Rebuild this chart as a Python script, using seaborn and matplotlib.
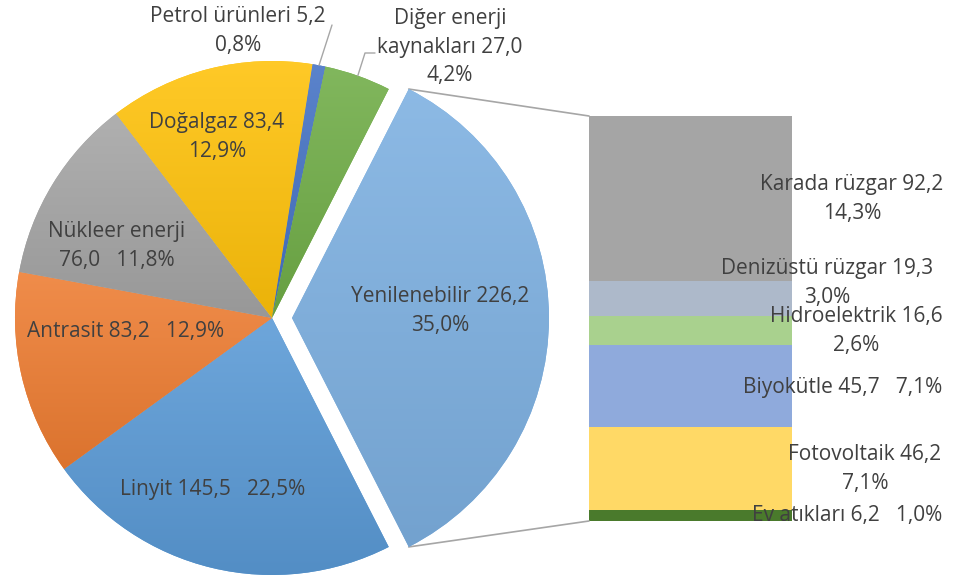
import numpy as np
import matplotlib
matplotlib.use("Agg")
import matplotlib.pyplot as plt
import seaborn as sns
from matplotlib.colors import to_rgb, LinearSegmentedColormap
from matplotlib.patches import ConnectionPatch

# === DATA ===
pie_names = ["Yenilenebilir", "Linyit", "Antrasit", "Nükleer enerji", "Doğalgaz",
             "Petrol ürünleri", "Diğer enerji kaynakları"]
pie_values = [226.2, 145.5, 83.2, 76.0, 83.4, 5.2, 27.0]

bar_names = ["Ev atıkları", "Fotovoltaik", "Biyokütle", "Hidroelektrik",
             "Denizüstü rüzgar", "Karada rüzgar"]
bar_values = [6.2, 46.2, 45.7, 16.6, 19.3, 92.2]

# === STYLE / LAYOUT ===
pie_colors = ["#7DB0E1", "#5A9AD6", "#EE7D32", "#A5A5A5", "#FFC20A", "#4472C4", "#70AD47"]
bar_colors = ["#4A7A2C", "#FFD966", "#8FAADC", "#A9D18E", "#ADB9CA", "#A5A5A5"]

# how the name / value / percent are glued in each label (Excel layout)
pie_name_text = ["Yenilenebilir", "Linyit", "Antrasit", "Nükleer enerji\n", "Doğalgaz",
                 "Petrol ürünleri", "Diğer enerji\nkaynakları"]
pie_sep = ["\n", "   ", "   ", "   ", "\n", "\n", "\n"]
bar_sep = ["   ", "\n", "   ", "\n", "\n", "\n"]

# label centres in pixels (origin top-left)
pie_label_pos = [(440, 311), (213, 490), (126, 332), (117, 246), (217, 137), (238, 31), (450, 47)]
bar_label_pos = [(847, 515), (865, 469), (843, 387), (856, 331), (827, 283), (852, 199)]
leader_ends = {5: [(332, 25)], 6: [(365, 53), (375, 53)]}

W, H = 956, 581
TEXT = "#404040"
LINE = "#A6A6A6"
FS = 15
LS = 1.45

sns.set_theme(style="white")
plt.rcParams["font.family"] = ["Open Sans", "DejaVu Sans"]

total = sum(pie_values)


def fmt(v):
    return f"{v:.1f}".replace(".", ",")


def pct(v):
    return f"{v / total * 100:.1f}%".replace(".", ",")


def shade(c, f):
    r = np.array(to_rgb(c))
    return tuple(r + (1 - r) * f) if f > 0 else tuple(r * (1 + f))


fig = plt.figure(figsize=(W / 100, H / 100), dpi=100)

# bar axes first so the pie axes (with all the labels) sits on top
bax = fig.add_axes([589 / W, 60 / H, 203 / W, 405 / H])
ax = fig.add_axes([0, 0, 1, 1])
ax.set_zorder(2)
ax.patch.set_alpha(0)

# === PIE ===
start = 180 * pie_values[0] / total
wedges, _ = ax.pie(
    pie_values,
    colors=pie_colors,
    startangle=start,
    counterclock=False,
    explode=[20] + [0] * (len(pie_values) - 1),
    radius=257,
    center=(272, H - 318),
    wedgeprops=dict(linewidth=0),
    frame=True,
)

# vertical gradient on each slice, like the Excel fill
for w, c in zip(wedges, pie_colors):
    bb = w.get_path().get_extents()
    cmap = LinearSegmentedColormap.from_list("g", [shade(c, 0.12), shade(c, -0.08)])
    im = ax.imshow(np.linspace(0, 1, 256).reshape(-1, 1), cmap=cmap, aspect="auto",
                   extent=[bb.x0, bb.x1, bb.y0, bb.y1], origin="upper",
                   zorder=w.get_zorder() + 0.1)
    im.set_clip_path(w)

ax.set_xlim(0, W)
ax.set_ylim(0, H)
ax.set_aspect("equal")
ax.axis("off")

for i, (name, v) in enumerate(zip(pie_name_text, pie_values)):
    sep = pie_sep[i]
    if name.endswith("\n"):
        label = f"{name}{fmt(v)}{sep}{pct(v)}"
    else:
        label = f"{name} {fmt(v)}{sep}{pct(v)}"
    x, y = pie_label_pos[i]
    ax.text(x, H - y, label, ha="center", va="center", color=TEXT,
            fontsize=FS, linespacing=LS, zorder=10)

# leader lines for the small slices
for i, ends in leader_ends.items():
    w = wedges[i]
    mid = np.deg2rad((w.theta1 + w.theta2) / 2)
    cx, cy = w.center
    xs = [cx + w.r * np.cos(mid)] + [e[0] for e in ends]
    ys = [cy + w.r * np.sin(mid)] + [H - e[1] for e in ends]
    ax.plot(xs, ys, color=LINE, lw=1, zorder=9)

# === STACKED BAR ===
bottom = 0
for name, v, c in zip(bar_names, bar_values, bar_colors):
    bax.bar(0, v, width=1, bottom=bottom, color=c, linewidth=0)
    bottom += v
bax.set_xlim(-0.5, 0.5)
bax.set_ylim(0, sum(bar_values))
bax.axis("off")

for i, (name, v) in enumerate(zip(bar_names, bar_values)):
    x, y = bar_label_pos[i]
    ax.text(x, H - y, f"{name} {fmt(v)}{bar_sep[i]}{pct(v)}", ha="center", va="center",
            color=TEXT, fontsize=FS, linespacing=LS, zorder=10)

# connector lines from the exploded slice to the bar
w0 = wedges[0]
cx, cy = w0.center
for ang, by in [(w0.theta2, sum(bar_values)), (w0.theta1, 0)]:
    a = np.deg2rad(ang)
    con = ConnectionPatch(xyA=(cx + w0.r * np.cos(a), cy + w0.r * np.sin(a)), coordsA=ax.transData,
                          xyB=(-0.5, by), coordsB=bax.transData, color=LINE, lw=1.2)
    fig.add_artist(con)

plt.savefig("out.png", dpi=100, facecolor="white")
